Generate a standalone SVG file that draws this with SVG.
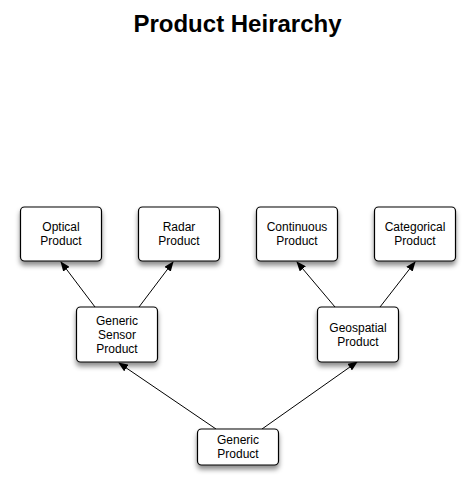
<svg xmlns="http://www.w3.org/2000/svg" width="475" height="489" viewBox="0 0 475 489">
<style>
.box{fill:#fff;stroke:#000;stroke-width:1.2;filter:url(#sh)}
.t{font-family:"Liberation Sans",Arial,sans-serif;font-size:12px;text-anchor:middle;fill:#000}
.e{stroke:#000;stroke-width:1;fill:none;marker-end:url(#ah)}
</style>
<defs>
<filter id="sh" x="-30%" y="-30%" width="160%" height="180%">
<feDropShadow dx="0" dy="4" stdDeviation="2.5" flood-color="#000" flood-opacity="0.45"/>
</filter>
<marker id="ah" markerWidth="10" markerHeight="8" refX="9" refY="4" orient="auto" markerUnits="userSpaceOnUse">
<path d="M0,0 L10,4 L0,8 Z" fill="#000"/>
</marker>
</defs>
<rect width="475" height="489" fill="#fff"/>
<text x="237.5" y="32" style="font-family:'Liberation Sans',Arial,sans-serif;font-size:24px;font-weight:bold;text-anchor:middle">Product Heirarchy</text>
<g id="connectors">
<line class="e" x1="216" y1="429" x2="119" y2="363"/>
<line class="e" x1="262" y1="429" x2="357" y2="362"/>
<line class="e" x1="95" y1="307" x2="61" y2="262"/>
<line class="e" x1="139" y1="307" x2="173" y2="262"/>
<line class="e" x1="335" y1="307" x2="297" y2="262"/>
<line class="e" x1="380" y1="307" x2="415" y2="262"/>
</g>
<g id="optical"><rect class="box" x="20.5" y="207" width="81" height="54" rx="4"/><text class="t" x="61" y="231">Optical</text><text class="t" x="61" y="245">Product</text></g>
<g id="radar"><rect class="box" x="138.5" y="207" width="81" height="54" rx="4"/><text class="t" x="179" y="231">Radar</text><text class="t" x="179" y="245">Product</text></g>
<g id="continuous"><rect class="box" x="256.5" y="207" width="81" height="54" rx="4"/><text class="t" x="297" y="231">Continuous</text><text class="t" x="297" y="245">Product</text></g>
<g id="categorical"><rect class="box" x="374.5" y="207" width="81" height="54" rx="4"/><text class="t" x="415" y="231">Categorical</text><text class="t" x="415" y="245">Product</text></g>
<g id="sensor"><rect class="box" x="76.5" y="307" width="81" height="55" rx="4"/><text class="t" x="117" y="325">Generic</text><text class="t" x="117" y="339">Sensor</text><text class="t" x="117" y="353">Product</text></g>
<g id="geospatial"><rect class="box" x="317.5" y="307" width="81" height="55" rx="4"/><text class="t" x="358" y="332">Geospatial</text><text class="t" x="358" y="346">Product</text></g>
<g id="generic"><rect class="box" x="197.5" y="429" width="81" height="36" rx="4"/><text class="t" x="238" y="444">Generic</text><text class="t" x="238" y="458">Product</text></g>
</svg>
